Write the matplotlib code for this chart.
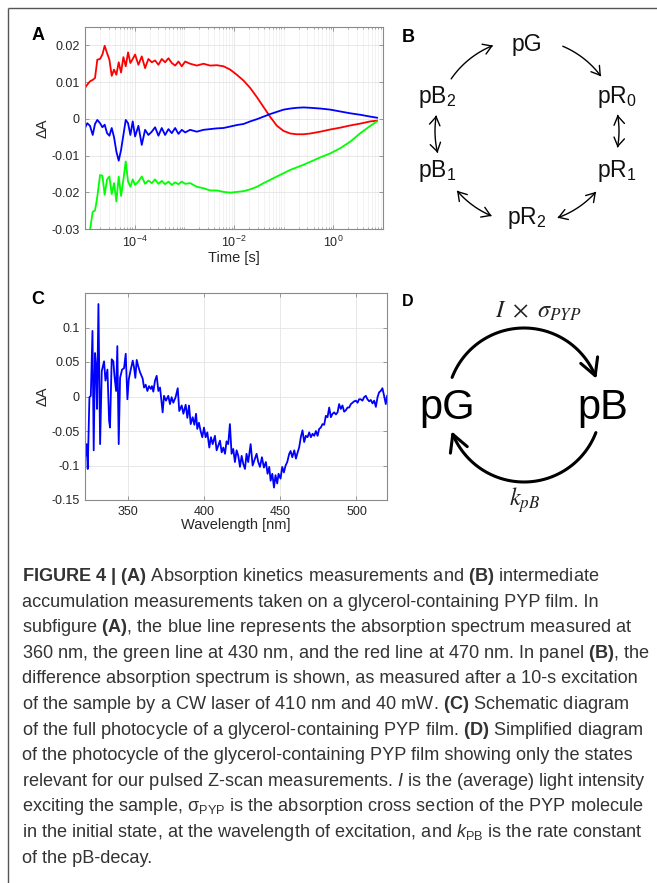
import numpy as np
import matplotlib
matplotlib.use("Agg")
import matplotlib.pyplot as plt
from matplotlib.patches import FancyArrowPatch
from matplotlib.path import Path
from matplotlib.ticker import FixedLocator, LogLocator, NullFormatter, LogFormatterSciNotation, FuncFormatter

plt.rcParams['font.family'] = ['Liberation Sans', 'DejaVu Sans']
plt.rcParams['mathtext.fontset'] = 'custom'
plt.rcParams['mathtext.rm'] = 'Liberation Sans'
plt.rcParams['mathtext.it'] = 'Liberation Sans:italic'
plt.rcParams['mathtext.bf'] = 'Liberation Sans:bold'
plt.rcParams['axes.unicode_minus'] = False

# ---------------- data: panel A (kinetics) ----------------
time_s = [1.00e-5, 1.11e-5, 1.26e-5, 1.43e-5, 1.59e-5, 1.77e-5, 2.01e-5, 2.24e-5, 2.49e-5,
          2.78e-5, 3.10e-5, 3.45e-5, 3.84e-5, 4.28e-5, 4.77e-5, 5.32e-5, 5.93e-5, 6.61e-5,
          7.36e-5, 8.20e-5, 9.14e-5, 1.02e-4, 1.19e-4, 1.39e-4, 1.62e-4, 1.89e-4, 2.21e-4,
          2.58e-4, 3.01e-4, 3.51e-4, 4.10e-4, 4.79e-4, 5.59e-4, 6.53e-4, 7.62e-4, 8.89e-4,
          1.04e-3, 1.31e-3, 1.78e-3, 2.43e-3, 3.31e-3, 4.52e-3, 6.15e-3, 8.38e-3, 1.14e-2,
          1.56e-2, 2.12e-2, 2.89e-2, 3.94e-2, 5.37e-2, 7.31e-2, 9.97e-2, 0.136, 0.185, 0.252,
          0.344, 0.547, 0.871, 1.38, 2.20, 3.50, 5.57, 7.59]
dA_470 = [0.0084, 0.0093, 0.0102, 0.0106, 0.0111, 0.0161, 0.0163, 0.0175, 0.0199, 0.0179,
          0.0161, 0.0117, 0.0134, 0.0120, 0.0154, 0.0126, 0.0168, 0.0143, 0.0181, 0.0152,
          0.0163, 0.0175, 0.0147, 0.0170, 0.0138, 0.0163, 0.0154, 0.0159, 0.0147, 0.0163,
          0.0154, 0.0165, 0.0152, 0.0145, 0.0156, 0.0143, 0.0156, 0.0150, 0.0145, 0.0150,
          0.0145, 0.0146, 0.0143, 0.0134, 0.0120, 0.0104, 0.0084, 0.0059, 0.0032, 0.0005,
          -0.0019, -0.0033, -0.0040, -0.0042, -0.0042, -0.0040, -0.0035, -0.0029, -0.0024,
          -0.0018, -0.0013, -0.0007, -0.0005]
dA_360 = [-0.0025, -0.0012, -0.0019, -0.0044, -0.0014, -0.0003, -0.0012, -0.0023, -0.0016,
          -0.0039, -0.0046, -0.0025, -0.0050, -0.0089, -0.0114, -0.0085, -0.0044, -0.0003,
          -0.0012, -0.0044, -0.0007, -0.0048, -0.0019, -0.0071, -0.0030, -0.0044, -0.0035,
          -0.0023, -0.0046, -0.0025, -0.0044, -0.0028, -0.0039, -0.0025, -0.0041, -0.0030,
          -0.0037, -0.0030, -0.0035, -0.0030, -0.0028, -0.0026, -0.0025, -0.0021, -0.0017,
          -0.0014, -0.0007, -0.0001, 0.0006, 0.0013, 0.0019, 0.0025, 0.0028, 0.0030, 0.0031,
          0.0030, 0.0028, 0.0025, 0.0020, 0.0015, 0.0011, 0.0006, 0.0003]
dA_430 = [-0.0360, -0.0330, -0.0303, -0.0253, -0.0250, -0.0212, -0.0153, -0.0155, -0.0207,
          -0.0165, -0.0157, -0.0205, -0.0175, -0.0225, -0.0157, -0.0210, -0.0165, -0.0116,
          -0.0171, -0.0185, -0.0165, -0.0180, -0.0171, -0.0157, -0.0177, -0.0168, -0.0175,
          -0.0165, -0.0177, -0.0169, -0.0178, -0.0171, -0.0180, -0.0173, -0.0178, -0.0171,
          -0.0177, -0.0175, -0.0185, -0.0189, -0.0195, -0.0195, -0.0199, -0.0201, -0.0199,
          -0.0197, -0.0192, -0.0185, -0.0175, -0.0166, -0.0157, -0.0148, -0.0139, -0.0132,
          -0.0125, -0.0117, -0.0105, -0.0094, -0.0080, -0.0062, -0.0039, -0.0019, -0.0007]

# ---------------- data: panel C (difference spectrum) ----------------
wavelength_nm = [322.1, 323.1, 323.8, 324.9, 325.8, 326.9, 327.7, 328.6, 329.3, 329.9, 330.8,
                 331.9, 333.0, 334.5, 335.4, 336.7, 337.8, 338.4, 339.5, 340.6, 341.3, 342.4,
                 343.2, 344.1, 345.0, 346.3, 347.6, 348.7, 349.8, 350.7, 352.0, 353.3, 354.1,
                 355.0, 355.9, 357.0, 358.1, 359.8, 360.7, 361.8, 362.9, 364.0, 365.1, 365.9,
                 366.8, 367.9, 369.0, 370.1, 371.2, 372.9, 373.8, 375.1, 376.6, 377.7, 378.8,
                 379.9, 381.4, 382.8, 383.8, 385.4, 386.5, 388.0, 389.1, 390.2, 391.3, 392.6,
                 393.7, 394.8, 395.6, 396.7, 397.8, 398.9, 400.0, 401.1, 402.2, 403.5, 404.6,
                 405.7, 407.2, 408.3, 409.4, 410.5, 411.6, 412.7, 413.8, 414.8, 415.9, 417.0,
                 418.1, 419.2, 420.3, 421.4, 422.5, 423.6, 424.7, 425.8, 426.9, 427.9, 429.0,
                 430.6, 431.9, 433.0, 434.5, 435.6, 436.7, 438.0, 439.3, 440.6, 441.7, 442.8,
                 443.7, 444.8, 445.9, 446.9, 448.0, 448.9, 450.2, 451.3, 452.4, 453.5, 454.6,
                 455.9, 456.8, 457.9, 459.2, 460.3, 461.4, 462.4, 463.5, 464.6, 465.7, 466.8,
                 467.9, 469.0, 470.1, 471.2, 472.3, 473.4, 474.5, 475.5, 476.6, 477.7, 478.8,
                 479.9, 481.0, 482.1, 483.2, 484.3, 485.4, 486.5, 487.6, 488.6, 489.7, 490.8,
                 491.9, 493.0, 494.1, 495.2, 496.3, 497.4, 498.5, 499.6, 500.7, 501.7, 502.8,
                 503.9, 505.0, 506.1, 507.2, 508.3, 509.4, 510.5, 511.6, 512.7, 513.8, 514.8,
                 515.9, 517.0, 518.1, 519.2, 520.1]
dA_spec = [-0.088, -0.069, -0.105, -0.001, 0.001, 0.095, -0.078, 0.063, 0.042, -0.018, 0.134,
           -0.069, 0.037, 0.051, 0.023, 0.039, -0.035, -0.045, 0.054, 0.051, 0.030, 0.008,
           0.073, -0.069, 0.027, 0.039, 0.041, 0.062, -0.004, 0.025, 0.039, 0.052, 0.043,
           0.027, 0.053, 0.043, 0.035, 0.026, 0.013, 0.017, 0.008, 0.015, 0.011, 0.015,
           0.007, 0.023, 0.030, 0.008, 0.013, -0.023, 0.001, -0.006, 0.001, -0.011, -0.001,
           -0.009, -0.001, 0.012, -0.021, -0.013, -0.025, -0.012, -0.031, -0.013, -0.040,
           -0.030, -0.041, -0.025, -0.047, -0.038, -0.050, -0.059, -0.045, -0.059, -0.052,
           -0.074, -0.059, -0.069, -0.057, -0.078, -0.071, -0.064, -0.081, -0.074, -0.083,
           -0.065, -0.069, -0.040, -0.083, -0.076, -0.095, -0.078, -0.086, -0.102, -0.086,
           -0.098, -0.105, -0.083, -0.095, -0.069, -0.100, -0.093, -0.083, -0.095, -0.102,
           -0.088, -0.103, -0.095, -0.112, -0.102, -0.122, -0.112, -0.132, -0.114, -0.126,
           -0.112, -0.119, -0.102, -0.110, -0.100, -0.095, -0.083, -0.079, -0.088, -0.078,
           -0.090, -0.081, -0.074, -0.059, -0.049, -0.066, -0.057, -0.059, -0.052, -0.059,
           -0.054, -0.057, -0.050, -0.057, -0.047, -0.045, -0.040, -0.041, -0.028, -0.030,
           -0.016, -0.030, -0.025, -0.023, -0.026, -0.023, -0.011, -0.018, -0.013, -0.022,
           -0.020, -0.016, -0.016, -0.011, -0.009, -0.007, -0.006, -0.009, -0.004, -0.004,
           -0.006, -0.001, 0.001, -0.004, -0.007, -0.005, -0.010, -0.006, -0.015, -0.001,
           0.006, 0.008, 0.012, 0.001, -0.011, 0.001]

A_yticks = [-0.03, -0.02, -0.01, 0, 0.01, 0.02]
A_xticks = [1e-4, 1e-2, 1e0]
C_yticks = [-0.15, -0.1, -0.05, 0, 0.05, 0.1]
C_xticks = [350, 400, 450, 500]

CAPTION = [
    r"$\mathbf{FIGURE\ 4\ |\ (A)}$ Absorption kinetics measurements and $\mathbf{(B)}$ intermediate",
    r"accumulation measurements taken on a glycerol-containing PYP film. In",
    r"subfigure $\mathbf{(A)}$, the blue line represents the absorption spectrum measured at",
    r"360 nm, the green line at 430 nm, and the red line at 470 nm. In panel $\mathbf{(B)}$, the",
    r"difference absorption spectrum is shown, as measured after a 10-s excitation",
    r"of the sample by a CW laser of 410 nm and 40 mW. $\mathbf{(C)}$ Schematic diagram",
    r"of the full photocycle of a glycerol-containing PYP film. $\mathbf{(D)}$ Simplified diagram",
    r"of the photocycle of the glycerol-containing PYP film showing only the states",
    r"relevant for our pulsed Z-scan measurements. $\mathit{I}$ is the (average) light intensity",
    r"exciting the sample, $\mathrm{\sigma}_{\mathrm{PYP}}$ is the absorption cross section of the PYP molecule",
    r"in the initial state, at the wavelength of excitation, and $\mathit{k}_{\mathrm{PB}}$ is the rate constant",
    r"of the pB-decay.",
]

W, H = 657, 883
fig = plt.figure(figsize=(W / 100, H / 100), dpi=100)
fig.patch.set_facecolor('white')


def axes_px(left, top, right, bottom):
    return fig.add_axes([left / W, 1 - bottom / H, (right - left) / W, (bottom - top) / H])


def matlab_style(ax):
    for s in ax.spines.values():
        s.set_color('#8a8a8a')
        s.set_linewidth(0.8)
    ax.tick_params(which='both', direction='in', top=True, right=True,
                   colors='#8a8a8a', labelcolor='#262626', labelsize=9)
    ax.tick_params(which='major', length=3, width=0.6, pad=4)
    ax.grid(True, which='major', color='#e4e4e4', lw=0.6)
    ax.set_axisbelow(True)


fmt_g = FuncFormatter(lambda v, _: f"{v:g}")

# ---------------- panel A ----------------
axA = axes_px(85, 27, 383, 229)
axA.plot(time_s, dA_470, color=(1, 0, 0), lw=1.3)
axA.plot(time_s, dA_360, color=(0, 0, 1), lw=1.3)
axA.plot(time_s, dA_430, color=(0, 1, 0), lw=1.3)
axA.set_xscale('log')
axA.set_xlim(1e-5, 10)
axA.set_ylim(-0.03, 0.025)
axA.xaxis.set_major_locator(FixedLocator(A_xticks))
axA.xaxis.set_major_formatter(LogFormatterSciNotation())
axA.xaxis.set_minor_locator(LogLocator(base=10, subs=np.arange(1, 10), numticks=20))
axA.xaxis.set_minor_formatter(NullFormatter())
axA.set_yticks(A_yticks)
axA.yaxis.set_major_formatter(fmt_g)
matlab_style(axA)
axA.tick_params(which='minor', length=1.5, width=0.5)
axA.grid(True, which='minor', axis='x', color='#eeeeee', lw=0.5)
axA.set_xlabel('Time [s]', fontsize=10.5, color='#262626', labelpad=1)
axA.set_ylabel('ΔA', fontsize=10.5, color='#262626', labelpad=1)

# ---------------- panel C ----------------
axC = axes_px(85, 293, 387, 500)
axC.plot(wavelength_nm, dA_spec, color=(0, 0, 1), lw=1.3)
axC.set_xlim(322, 520)
axC.set_ylim(-0.15, 0.15)
axC.set_xticks(C_xticks)
axC.set_yticks(C_yticks)
axC.yaxis.set_major_formatter(fmt_g)
matlab_style(axC)
axC.set_xlabel('Wavelength [nm]', fontsize=10.5, color='#262626', labelpad=0)
axC.set_ylabel('ΔA', fontsize=10.5, color='#262626', labelpad=1)

# ---------------- overlay in pixel coordinates ----------------
ov = fig.add_axes([0, 0, 1, 1])
ov.set_xlim(0, W)
ov.set_ylim(H, 0)
ov.axis('off')

# frame of the figure box
ov.plot([8, W], [8, 8], color='#555555', lw=1.0, solid_capstyle='butt')
ov.plot([8, 8], [8, H], color='#555555', lw=1.0, solid_capstyle='butt')

# panel letters
for x, y, s, fs in [(38, 36, 'A', 13), (408, 37, 'B', 13), (38, 299, 'C', 13), (408, 301, 'D', 11.5)]:
    ov.text(x, y, s, fontsize=fs, fontweight='bold', ha='center', va='center')


def arc_arrow(cx, cy, r, a0, a1, style, lw, hl, hw):
    t = np.radians(np.linspace(a0, a1, 60))
    verts = np.column_stack([cx + r * np.cos(t), cy - r * np.sin(t)])
    ov.add_patch(FancyArrowPatch(path=Path(verts), lw=lw, color='black',
                                 arrowstyle=f"{style},head_length={hl},head_width={hw}",
                                 mutation_scale=10))


# panel B: full photocycle
states_B = [(527, 45, 'pG'), (617, 97, r'pR$_{0}$'), (617, 171, r'pR$_{1}$'),
            (527, 218, r'pR$_{2}$'), (437, 171, r'pB$_{1}$'), (437, 97, r'pB$_{2}$')]
for x, y, s in states_B:
    ov.text(x, y, s, fontsize=16.5, color='#111111', ha='center', va='center')
cxB, cyB, rB = 527, 131, 92
for a0, a1, st in [(145.5, 111.7, '->'), (67.1, 36.5, '->'), (10.1, -10.3, '<->'),
                   (-41.4, -70.6, '<->'), (-112.6, -139.5, '<->'), (193.7, 170.3, '<->')]:
    arc_arrow(cxB, cyB, rB, a0, a1, st, 1.0, 0.6, 0.38)

# panel D: simplified photocycle
ov.text(447, 408, 'pG', fontsize=30, ha='center', va='center')
ov.text(603, 408, 'pB', fontsize=30, ha='center', va='center')
arc_arrow(524, 405, 77, 159, 20, '->', 2.2, 1.2, 0.65)
arc_arrow(524, 405, 77, -21, -160, '->', 2.2, 1.2, 0.65)
ov.text(538, 311, r'$I\ \times\ \sigma_{PYP}$', fontsize=17.5, ha='center', va='center',
        math_fontfamily='stix', color='#222222')
ov.text(525, 500, r'$k_{pB}$', fontsize=17.5, ha='center', va='center',
        math_fontfamily='stix', color='#222222')

# ---------------- caption ----------------
fig.canvas.draw()
rend = fig.canvas.get_renderer()
probe = ov.text(22, 100, CAPTION[3], fontsize=12)
cap_size = 12 * 629 / probe.get_window_extent(rend).width
probe.remove()

for i, line in enumerate(CAPTION):
    ov.text(22, 581 + i * 25.6, line, fontsize=cap_size, color='#333333',
            ha='left', va='baseline')

fig.savefig('out.png', dpi=100)
